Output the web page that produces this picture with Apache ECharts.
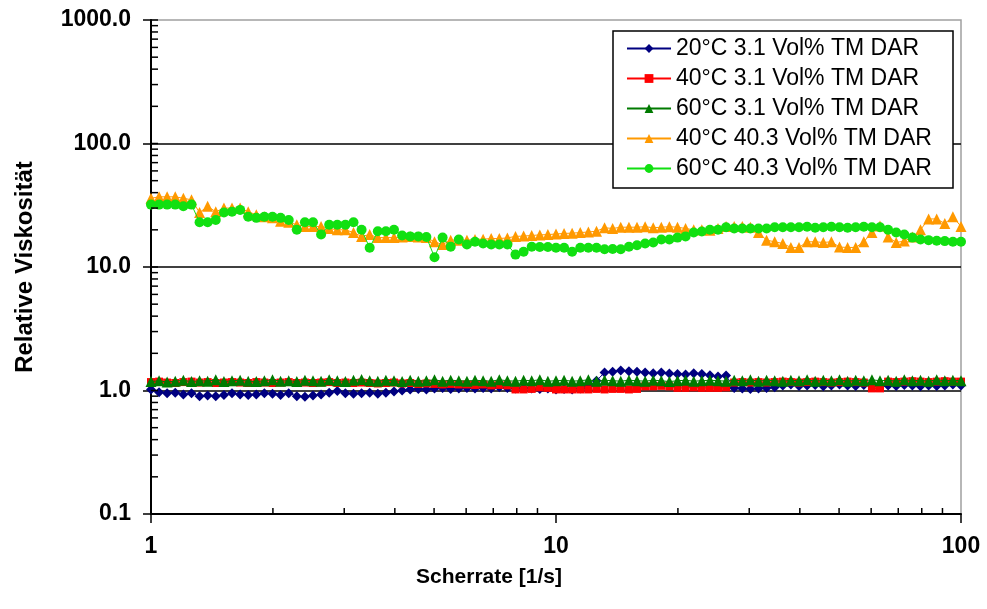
<!DOCTYPE html>
<html>
<head>
<meta charset="utf-8">
<script src="https://cdn.jsdelivr.net/npm/echarts@6/dist/echarts.min.js"></script>
<style>
html,body{margin:0;padding:0;background:#fff;}
#chart{width:987px;height:609px;}
</style>
</head>
<body>
<div id="chart"></div>
<script>
// Shear rate [1/s]
const shearRate = [1.000,1.047,1.096,1.148,1.202,1.259,1.318,1.380,1.445,1.514,1.585,1.660,1.738,1.820,1.905,1.995,2.089,2.188,2.291,2.399,2.512,2.630,2.754,2.884,3.020,3.162,3.311,3.467,3.631,3.802,3.981,4.169,4.365,4.571,4.786,5.012,5.248,5.495,5.754,6.026,6.310,6.607,6.918,7.244,7.586,7.943,8.318,8.710,9.120,9.550,10.00,10.47,10.96,11.48,12.02,12.59,13.18,13.80,14.45,15.14,15.85,16.60,17.38,18.20,19.05,19.95,20.89,21.88,22.91,23.99,25.12,26.30,27.54,28.84,30.20,31.62,33.11,34.67,36.31,38.02,39.81,41.69,43.65,45.71,47.86,50.12,52.48,54.95,57.54,60.26,63.10,66.07,69.18,72.44,75.86,79.43,83.18,87.10,91.20,95.50,100.0];

const seriesNames = ['20°C 3.1 Vol% TM DAR','40°C 3.1 Vol% TM DAR','60°C 3.1 Vol% TM DAR','40°C 40.3 Vol% TM DAR','60°C 40.3 Vol% TM DAR'];

const visc20_31 = [1.02,0.97,0.95,0.96,0.93,0.95,0.90,0.91,0.90,0.92,
 0.95,0.93,0.92,0.93,0.95,0.94,0.92,0.95,0.90,0.89,
 0.91,0.93,0.96,0.99,0.95,0.94,0.95,0.96,0.94,0.96,
 0.98,1.00,1.02,1.03,1.02,1.04,1.05,1.03,1.04,1.05,
 1.04,1.05,1.04,1.06,1.05,1.04,1.05,1.04,1.03,1.04,
 1.02,1.03,1.02,1.04,1.08,1.20,1.40,1.42,1.45,1.43,
 1.42,1.40,1.38,1.40,1.37,1.36,1.35,1.38,1.36,1.33,
 1.30,1.32,1.05,1.04,1.03,1.04,1.05,1.06,1.10,1.12,
 1.09,1.10,1.11,1.08,1.10,1.12,1.10,1.09,1.11,1.10,
 1.08,1.10,1.09,1.11,1.10,1.08,1.10,1.09,1.10,1.12,
 1.10];

const visc40_31 = [1.17,1.18,1.16,1.15,1.17,1.18,1.16,1.17,1.15,1.16,
 1.17,1.16,1.15,1.17,1.16,1.15,1.16,1.17,1.15,1.16,
 1.15,1.16,1.17,1.15,1.16,1.15,1.16,1.15,1.14,1.15,
 1.16,1.14,1.15,1.13,1.14,1.13,1.12,1.13,1.12,1.12,
 1.11,1.12,1.10,1.11,1.10,1.02,1.02,1.03,1.06,1.05,
 1.02,1.02,1.02,1.02,1.02,1.03,1.02,1.03,1.03,1.02,
 1.03,1.08,1.08,1.09,1.08,1.05,1.05,1.06,1.05,1.05,
 1.05,1.06,1.16,1.17,1.16,1.17,1.16,1.17,1.18,1.17,
 1.16,1.17,1.18,1.17,1.16,1.17,1.18,1.17,1.16,1.04,
 1.04,1.18,1.17,1.18,1.19,1.18,1.17,1.18,1.19,1.18,
 1.18];

const visc60_31 = [1.18,1.20,1.17,1.19,1.21,1.18,1.20,1.19,1.22,1.18,
 1.20,1.21,1.19,1.18,1.20,1.22,1.19,1.20,1.18,1.21,
 1.20,1.19,1.22,1.20,1.18,1.21,1.23,1.20,1.19,1.21,
 1.20,1.18,1.21,1.19,1.20,1.22,1.19,1.21,1.20,1.19,
 1.21,1.20,1.19,1.22,1.20,1.19,1.21,1.20,1.22,1.19,
 1.20,1.21,1.19,1.20,1.22,1.19,1.21,1.20,1.19,1.21,
 1.20,1.19,1.21,1.20,1.18,1.20,1.21,1.19,1.20,1.21,
 1.20,1.19,1.21,1.20,1.22,1.19,1.21,1.20,1.19,1.21,
 1.20,1.22,1.19,1.21,1.20,1.22,1.19,1.21,1.20,1.22,
 1.20,1.21,1.19,1.22,1.20,1.21,1.19,1.22,1.20,1.21,
 1.20];

const visc40_403 = [36,37,37,37,36,35,27.6,31,28,30,
 30,30,28,26.5,25.5,25,23.5,23,22,21.3,
 21.3,21.3,20.5,20,20,19,17.7,18.3,17.3,17.3,
 17.3,17.5,17.7,17.5,17.3,16,15.2,16.5,16.5,16.5,
 16.7,16.8,17,17,17.2,17.7,17.8,18,18.2,18.3,
 18.5,18.7,18.8,19,19.2,19.5,20.8,20.5,21,21,
 21,21.2,20.8,21,21.2,21,20.5,20,20,19.8,
 20.5,21.3,21.3,21.3,21,19,16.5,16,15.5,14.4,
 14.4,16,16,15.8,16,14.5,14.4,14.4,16,19,
 21.5,17.5,15.8,16.2,17.5,20,24.5,24.5,22.5,25.5,
 21.3];

const visc60_403 = [32,32,32,32,31,32,23,23,24,27.6,
 28,29,25.5,25,25.5,25.5,25,24,20,23,
 23,18.3,22,22,22,23,20,14.3,19.5,19.5,
 20,18,17.7,17.7,17.5,12,17.3,14.6,16.7,15.2,
 16,15.5,15.2,15.2,15.2,12.6,13.3,14.6,14.5,14.5,
 14.3,14.3,13.3,14.3,14.3,14.3,13.9,14,13.9,14.6,
 15,15.5,15.8,16.7,16.7,17.3,17.7,19,19.4,20,
 20,21,20.5,20.5,20.5,20.5,20.5,21,21,21,
 21,21.2,20.8,21,21.2,21,20.8,21,21.2,21,
 21,20,19,18.3,17.3,16.7,16.5,16.3,16.2,16,
 16];

const yTickLabels = ['0.1','1.0','10.0','100.0','1000.0'];
const xTickLabels = ['1','10','100'];
const yInnerTicks = [0.2,0.3,0.4,0.5,0.6,0.7,0.8,0.9,1,2,3,4,5,6,7,8,9,10,20,30,40,50,60,70,80,90,100,200,300,400,500,600,700,800,900,1000];
const xInnerTicks = [2,3,4,5,6,7,8,9,20,30,40,50,60,70,80,90];

const FONT = 'Liberation Sans, Arial, sans-serif';
const valueSets = [visc20_31, visc40_31, visc60_31, visc40_403, visc60_403];
const colors = ['#000080','#ff0000','#007a00','#ff9900','#11e011'];
const symbols = ['diamond','rect','triangle','triangle','circle'];
const sizes = [10,8,11,11,10];

const lineSeries = valueSets.map((vals, k) => ({
  name: seriesNames[k],
  type: 'line',
  data: vals.map((v, i) => [shearRate[i], v]),
  symbol: symbols[k],
  symbolSize: sizes[k],
  showSymbol: true,
  color: colors[k],
  itemStyle: {color: colors[k]},
  lineStyle: {color: colors[k], width: 1},
  z: 2 + k,
  animation: false
}));

const tickSeries = [
  {
    type: 'custom', silent: true, clip: false, z: 10, animation: false,
    data: yInnerTicks.map(v => [1, v]),
    renderItem: (params, api) => {
      const p = api.coord([api.value(0), api.value(1)]);
      return {type: 'line', shape: {x1: p[0], y1: p[1], x2: p[0] + 7, y2: p[1]}, style: {stroke: '#000', lineWidth: 1.5}};
    }
  },
  {
    type: 'custom', silent: true, clip: false, z: 10, animation: false,
    data: xInnerTicks.map(v => [v, 0.1]),
    renderItem: (params, api) => {
      const p = api.coord([api.value(0), api.value(1)]);
      return {type: 'line', shape: {x1: p[0], y1: p[1], x2: p[0], y2: p[1] - 6}, style: {stroke: '#000', lineWidth: 1.5}};
    }
  }
];

const chart = echarts.init(document.getElementById('chart'), null, {renderer: 'canvas'});
chart.setOption({
  animation: false,
  backgroundColor: '#fff',
  grid: {left: 151, right: 26, top: 20, bottom: 95, show: true, borderColor: '#a0a0a0', borderWidth: 1.5, backgroundColor: 'transparent'},
  xAxis: {
    type: 'log', logBase: 10, min: 1, max: 100,
    axisLine: {show: true, lineStyle: {color: '#000', width: 2}},
    axisTick: {show: true, length: 9, inside: false, lineStyle: {color: '#000', width: 1.5}},
    axisLabel: {color: '#000', fontFamily: FONT, fontWeight: 'bold', fontSize: 23, margin: 21,
      formatter: v => { const i = Math.round(Math.log10(v)); return xTickLabels[i] || ''; }},
    splitLine: {show: false}
  },
  yAxis: {
    type: 'log', logBase: 10, min: 0.1, max: 1000,
    name: 'Relative Viskosität', nameLocation: 'middle', nameGap: 114,
    nameTextStyle: {color: '#000', fontFamily: FONT, fontWeight: 'bold', fontSize: 24},
    axisLine: {show: true, lineStyle: {color: '#000', width: 2}},
    axisTick: {show: true, length: 8, inside: false, lineStyle: {color: '#000', width: 1.5}},
    axisLabel: {color: '#000', fontFamily: FONT, fontWeight: 'bold', fontSize: 23, margin: 20,
      formatter: v => { const i = Math.round(Math.log10(v)) + 1; return yTickLabels[i] || ''; }},
    splitLine: {show: true, showMinLine: false, showMaxLine: false, lineStyle: {color: '#000', width: 1.5}}
  },
  legend: {
    orient: 'vertical', left: 626, top: 37,
    data: seriesNames,
    itemWidth: 44, itemHeight: 11, itemGap: 7,
    textStyle: {color: '#000', fontFamily: FONT, fontSize: 23},
    padding: 0, z: 8
  },
  graphic: [
    {type: 'rect', z: 6, shape: {x: 613, y: 31, width: 340, height: 157}, style: {fill: '#fff', stroke: '#000', lineWidth: 1.5}},
    {type: 'text', z: 6, style: {text: 'Scherrate [1/s]', x: 489, y: 577, textAlign: 'center', textVerticalAlign: 'middle', font: 'bold 21px ' + FONT, fill: '#000'}}
  ],
  series: lineSeries.concat(tickSeries)
});
</script>
</body>
</html>
